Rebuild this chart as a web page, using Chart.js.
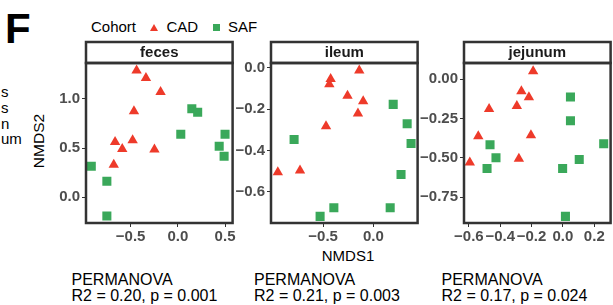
<!DOCTYPE html>
<html lang="en">

<head>
    <meta charset="UTF-8">
    <title>NMDS by cohort</title>
    <script src="https://cdn.jsdelivr.net/npm/chart.js"></script>
    <style>
        body {
            margin: 0;
            width: 613px;
            height: 305px;
            overflow: hidden;
            position: relative;
            background: #fff;
            font-family: Arial, "Liberation Sans", sans-serif;
            color: #000;
        }

        .txt {
            position: absolute;
            white-space: nowrap;
            line-height: 1;
        }

        canvas {
            position: absolute;
        }
    </style>
</head>

<body>

    <div class="txt" style="left:5px; top:7.8px; font-size:42px; font-weight:bold;">F</div>

    <!-- cut-off labels from the panel on the left -->
    <div class="txt" style="left:1px; top:84px; font-size:15px; line-height:15.8px;">s<br>s<br>n<br>um</div>

    <!-- legend -->
    <div class="txt" style="left:91px; top:19.3px; font-size:15px;">Cohort</div>
    <div style="position:absolute; left:150px; top:23.5px; width:0; height:0; border-left:4px solid transparent; border-right:4px solid transparent; border-bottom:7px solid #ee3a2a;"></div>
    <div class="txt" style="left:166.5px; top:19.3px; font-size:15px;">CAD</div>
    <div style="position:absolute; left:212.5px; top:23.5px; width:7px; height:7px; background:#3aa85a;"></div>
    <div class="txt" style="left:228px; top:19.3px; font-size:15px;">SAF</div>

    <div class="txt" style="left:39px; top:140.5px; font-size:15.5px; transform:translate(-50%,-50%) rotate(-90deg);">NMDS2</div>
    <div class="txt" style="left:348px; top:248.3px; font-size:15px; transform:translateX(-50%);">NMDS1</div>

    <canvas id="feces" width="209" height="207" style="left:30px; top:40px;"></canvas>
    <canvas id="ileum" width="193" height="207" style="left:231px; top:40px;"></canvas>
    <canvas id="jejunum" width="197" height="207" style="left:420px; top:40px;"></canvas>

    <div class="txt" style="left:71.5px; top:271.5px; font-size:16px;">PERMANOVA</div>
    <div class="txt" style="left:71.5px; top:287.5px; font-size:16px;">R2 = 0.20, p = 0.001</div>
    <div class="txt" style="left:254px; top:271.5px; font-size:16px;">PERMANOVA</div>
    <div class="txt" style="left:254px; top:287.5px; font-size:16px;">R2 = 0.21, p = 0.003</div>
    <div class="txt" style="left:441.5px; top:271.5px; font-size:16px;">PERMANOVA</div>
    <div class="txt" style="left:441.5px; top:287.5px; font-size:16px;">R2 = 0.17, p = 0.024</div>

    <script type='text/javascript'>
        // feces
        var fecesCadX = [-0.437, -0.338, -0.183, -0.465, -0.665, -0.589, -0.479, -0.248, -0.679];
        var fecesCadY = [1.29, 1.215, 1.07, 0.875, 0.56, 0.49, 0.58, 0.485, 0.33];
        var fecesSafX = [-0.917, -0.752, -0.752, 0.031, 0.148, 0.21, 0.5, 0.438, 0.49];
        var fecesSafY = [0.313, 0.16, -0.194, 0.64, 0.901, 0.864, 0.64, 0.517, 0.415];
        var fecesXTicks = [-0.5, 0, 0.5];
        var fecesXLabels = ["\u22120.5", "0.0", "0.5"];
        var fecesYTicks = [0, 0.5, 1];
        var fecesYLabels = ["0.0", "0.5", "1.0"];

        // ileum
        var ileumCadX = [-0.14, -0.425, -0.438, -0.257, -0.101, -0.153, -0.471, -0.73, -0.951];
        var ileumCadY = [-0.013, -0.055, -0.08, -0.136, -0.162, -0.221, -0.283, -0.496, -0.505];
        var ileumSafX = [0.198, 0.337, 0.376, -0.789, 0.276, 0.168, -0.393, -0.53];
        var ileumSafY = [-0.177, -0.271, -0.366, -0.347, -0.516, -0.676, -0.676, -0.718];
        var ileumXTicks = [-0.5, 0];
        var ileumXLabels = ["\u22120.5", "0.0"];
        var ileumYTicks = [0, -0.2, -0.4, -0.6];
        var ileumYLabels = ["0.0", "\u22120.2", "\u22120.4", "\u22120.6"];

        // jejunum
        var jejunumCadX = [-0.19, -0.265, -0.217, -0.294, -0.471, -0.54, -0.204, -0.281, -0.594];
        var jejunumCadY = [0.05, -0.077, -0.116, -0.171, -0.19, -0.364, -0.357, -0.506, -0.531];
        var jejunumSafX = [0.048, 0.048, -0.465, -0.427, -0.484, -0.002, 0.104, 0.26, 0.016];
        var jejunumSafY = [-0.114, -0.265, -0.417, -0.5, -0.568, -0.568, -0.512, -0.411, -0.873];
        var jejunumXTicks = [-0.6, -0.4, -0.2, 0, 0.2];
        var jejunumXLabels = ["\u22120.6", "\u22120.4", "\u22120.2", "0.0", "0.2"];
        var jejunumYTicks = [0, -0.25, -0.5, -0.75];
        var jejunumYLabels = ["0.00", "\u22120.25", "\u22120.50", "\u22120.75"];

        // panel border + facet strip
        var panelBox = {
            id: 'panelBox',
            afterDraw: function (chart, args, opts) {
                var a = chart.chartArea, ctx = chart.ctx;
                ctx.save();
                ctx.lineWidth = 2.5;
                ctx.strokeStyle = '#333333';
                ctx.fillStyle = '#ffffff';
                ctx.fillRect(a.left, a.top - 21, a.right - a.left, 21);
                ctx.strokeRect(a.left, a.top - 21, a.right - a.left, 21);
                ctx.strokeRect(a.left, a.top, a.right - a.left, a.bottom - a.top);
                ctx.fillStyle = '#1a1a1a';
                ctx.font = 'bold 15px Arial';
                ctx.textAlign = 'center';
                ctx.textBaseline = 'middle';
                ctx.fillText(opts.title, (a.left + a.right) / 2, a.top - 10);
                ctx.restore();
            }
        };

        function toPoints(xs, ys) {
            var pts = [];
            for (var i = 0; i < xs.length; i++) {
                pts.push({ x: xs[i], y: ys[i] });
            }
            return pts;
        }

        function makeAxis(min, max, ticks, labels, isX, size) {
            return {
                type: 'linear',
                min: min,
                max: max,
                afterBuildTicks: function (s) {
                    s.ticks = ticks.map(function (v) { return { value: v }; });
                },
                afterFit: function (s) {
                    if (isX) s.height = size; else s.width = size;
                },
                ticks: {
                    callback: function (v, i) { return labels[i]; },
                    font: { family: 'Arial', size: 15, weight: 'bold' },
                    color: '#4d4d4d',
                    padding: isX ? 1 : 2,
                    autoSkip: false,
                    maxRotation: 0,
                    minRotation: 0
                },
                grid: {
                    drawOnChartArea: false,
                    drawTicks: true,
                    tickLength: 4,
                    color: '#333333',
                    lineWidth: 1
                },
                border: { display: false }
            };
        }

        function makePanel(id, title, cadX, cadY, safX, safY, xr, yr, xTicks, xLabels, yTicks, yLabels, yWidth) {
            var ctx = document.getElementById(id).getContext('2d');
            new Chart(ctx, {
                type: 'scatter',
                data: {
                    datasets: [{
                        label: 'CAD',
                        data: toPoints(cadX, cadY),
                        pointStyle: 'triangle',
                        pointRadius: 6,
                        backgroundColor: '#ee3a2a',
                        borderWidth: 0
                    }, {
                        label: 'SAF',
                        data: toPoints(safX, safY),
                        pointStyle: 'rect',
                        pointRadius: 6.4,
                        backgroundColor: '#3aa85a',
                        borderWidth: 0
                    }]
                },
                options: {
                    responsive: false,
                    animation: false,
                    layout: { padding: { top: 23, right: 3, left: 0, bottom: 0 } },
                    plugins: {
                        legend: { display: false },
                        tooltip: { enabled: false },
                        panelBox: { title: title }
                    },
                    scales: {
                        x: makeAxis(xr[0], xr[1], xTicks, xLabels, true, 24),
                        y: makeAxis(yr[0], yr[1], yTicks, yLabels, false, yWidth)
                    }
                },
                plugins: [panelBox]
            });
        }

        makePanel('feces', 'feces', fecesCadX, fecesCadY, fecesSafX, fecesSafY,
            [-0.973, 0.58], [-0.265, 1.367], fecesXTicks, fecesXLabels, fecesYTicks, fecesYLabels, 56);
        makePanel('ileum', 'ileum', ileumCadX, ileumCadY, ileumSafX, ileumSafY,
            [-1.019, 0.441], [-0.75, 0.0227], ileumXTicks, ileumXLabels, ileumYTicks, ileumYLabels, 40);
        makePanel('jejunum', 'jejunum', jejunumCadX, jejunumCadY, jejunumSafX, jejunumSafY,
            [-0.631, 0.304], [-0.915, 0.102], jejunumXTicks, jejunumXLabels, jejunumYTicks, jejunumYLabels, 44);
    </script>

</body>

</html>
